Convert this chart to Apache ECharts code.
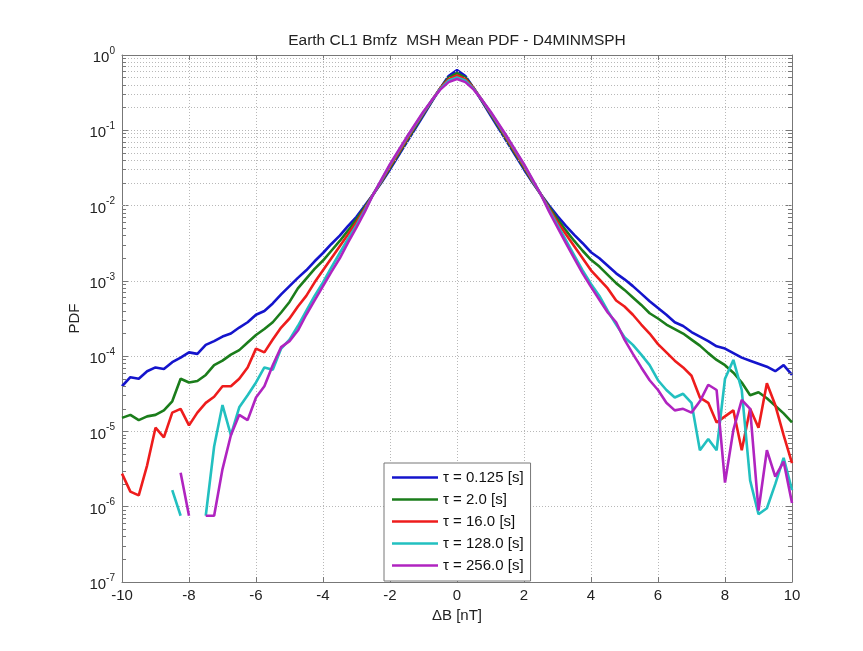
<!DOCTYPE html>
<html><head><meta charset="utf-8">
<script src="https://cdn.jsdelivr.net/npm/echarts@6/dist/echarts.min.js"></script>
<style>html,body{margin:0;padding:0;background:#fff}#c{width:863px;height:651px}</style>
</head><body><div id="c"></div>
<script>
// dB values [nT]
const xs = [-10,-9.75,-9.5,-9.25,-9,-8.75,-8.5,-8.25,-8,-7.75,-7.5,-7.25,-7,-6.75,-6.5,-6.25,-6,-5.75,-5.5,-5.25,-5,-4.75,-4.5,-4.25,-4,-3.75,-3.5,-3.25,-3,
  -2.75,-2.5,-2.25,-2,-1.75,-1.5,-1.25,-1,-0.75,-0.5,-0.25,0,0.25,0.5,0.75,1,1.25,1.5,1.75,2,2.25,2.5,2.75,
  3,3.25,3.5,3.75,4,4.25,4.5,4.75,5,5.25,5.5,5.75,6,6.25,6.5,6.75,7,7.25,7.5,7.75,8,8.25,8.5,8.75,9,9.25,9.5,9.75,10];
// log10(PDF) (null = no data)
const blueLog = [-4.40,-4.28,-4.30,-4.20,-4.15,-4.17,-4.08,-4.02,-3.95,-3.97,-3.85,-3.80,-3.74,-3.70,-3.62,-3.55,-3.45,-3.40,-3.30,-3.18,-3.07,-2.96,-2.86,-2.74,-2.63,-2.51,-2.40,-2.27,-2.15,
  -2.00,-1.85,-1.69,-1.52,-1.34,-1.16,-0.98,-0.80,-0.62,-0.44,-0.28,-0.20,-0.28,-0.44,-0.62,-0.80,-0.98,-1.16,-1.34,-1.52,-1.69,-1.85,-2.00,
  -2.14,-2.27,-2.39,-2.50,-2.62,-2.70,-2.80,-2.90,-2.98,-3.07,-3.17,-3.27,-3.36,-3.45,-3.55,-3.60,-3.68,-3.74,-3.80,-3.87,-3.90,-3.96,-4.02,-4.06,-4.10,-4.14,-4.20,-4.12,-4.25];
const greenLog = [-4.82,-4.78,-4.85,-4.80,-4.78,-4.72,-4.60,-4.30,-4.35,-4.33,-4.25,-4.12,-4.06,-3.98,-3.92,-3.82,-3.72,-3.64,-3.55,-3.42,-3.28,-3.10,-2.97,-2.84,-2.73,-2.60,-2.47,-2.33,-2.18,
  -2.02,-1.85,-1.68,-1.50,-1.32,-1.14,-0.96,-0.78,-0.61,-0.44,-0.30,-0.24,-0.30,-0.44,-0.61,-0.78,-0.96,-1.14,-1.32,-1.50,-1.68,-1.85,-2.02,
  -2.18,-2.33,-2.47,-2.60,-2.72,-2.81,-2.92,-3.03,-3.12,-3.22,-3.32,-3.43,-3.50,-3.58,-3.64,-3.70,-3.78,-3.86,-3.96,-4.05,-4.12,-4.22,-4.35,-4.52,-4.48,-4.56,-4.66,-4.76,-4.88];
const redLog = [-5.56,-5.80,-5.85,-5.45,-4.95,-5.08,-4.75,-4.70,-4.92,-4.75,-4.62,-4.54,-4.40,-4.40,-4.30,-4.15,-3.90,-3.95,-3.78,-3.62,-3.50,-3.34,-3.20,-3.02,-2.86,-2.70,-2.54,-2.38,-2.22,
  -2.04,-1.85,-1.67,-1.48,-1.30,-1.12,-0.94,-0.77,-0.60,-0.44,-0.32,-0.27,-0.32,-0.44,-0.60,-0.77,-0.94,-1.12,-1.30,-1.48,-1.67,-1.85,-2.04,
  -2.22,-2.38,-2.54,-2.70,-2.86,-2.98,-3.10,-3.26,-3.34,-3.45,-3.58,-3.70,-3.84,-3.95,-4.06,-4.15,-4.26,-4.55,-4.62,-4.88,-4.80,-4.72,-5.25,-4.70,-4.95,-4.36,-4.65,-5.05,-5.42];
const cyanLog = [null,null,null,null,null,null,-5.78,-6.12,null,null,-6.12,-5.20,-4.65,-5.05,-4.68,-4.52,-4.35,-4.15,-4.18,-3.90,-3.78,-3.60,-3.40,-3.20,-3.02,-2.82,-2.63,-2.44,-2.26,
  -2.06,-1.85,-1.66,-1.46,-1.28,-1.10,-0.93,-0.76,-0.60,-0.45,-0.34,-0.30,-0.34,-0.45,-0.60,-0.76,-0.93,-1.10,-1.28,-1.46,-1.66,-1.85,-2.06,
  -2.26,-2.46,-2.66,-2.86,-3.04,-3.20,-3.40,-3.58,-3.75,-3.85,-3.98,-4.12,-4.32,-4.45,-4.55,-4.50,-4.62,-5.25,-5.10,-5.25,-4.30,-4.05,-4.45,-5.65,-6.10,-6.02,-5.70,-5.35,-5.78];
const magentaLog = [null,null,null,null,null,null,null,-5.55,-6.12,null,-6.12,-6.12,-5.50,-5.05,-4.78,-4.85,-4.55,-4.40,-4.12,-3.88,-3.80,-3.66,-3.45,-3.26,-3.07,-2.88,-2.70,-2.49,-2.29,
  -2.08,-1.85,-1.65,-1.45,-1.27,-1.09,-0.92,-0.75,-0.60,-0.46,-0.36,-0.32,-0.36,-0.46,-0.60,-0.75,-0.92,-1.09,-1.27,-1.45,-1.65,-1.85,-2.08,
  -2.29,-2.50,-2.70,-2.90,-3.08,-3.25,-3.42,-3.55,-3.78,-3.97,-4.15,-4.32,-4.45,-4.62,-4.72,-4.70,-4.75,-4.60,-4.38,-4.45,-5.68,-4.98,-4.58,-4.70,-6.05,-5.25,-5.60,-5.40,-5.95];
const seriesNames = ['\u03c4 = 0.125 [s]','\u03c4 = 2.0 [s]','\u03c4 = 16.0 [s]','\u03c4 = 128.0 [s]','\u03c4 = 256.0 [s]'];
const xTicks = [-10,-8,-6,-4,-2,0,2,4,6,8,10];
const minorY = [];
for (let e = -7; e < 0; e++) for (let m = 2; m <= 9; m++) minorY.push(m * Math.pow(10, e));

const colors = ['#1414cc','#1b7d1b','#ee1c1c','#22c0c0','#b024c0'];
const logs = [blueLog, greenLog, redLog, cyanLog, magentaLog];
const FONT = 'Liberation Sans, Arial, sans-serif';

function toData(arr) { return xs.map((x, i) => [x, arr[i] == null ? '-' : Math.pow(10, arr[i])]); }

const series = logs.map((arr, k) => ({
  name: seriesNames[k], type: 'line', data: toData(arr), symbol: 'none', showSymbol: false,
  connectNulls: false, animation: false, silent: true, z: 3 + k,
  lineStyle: { color: colors[k], width: 2.6 }, itemStyle: { color: colors[k] }
}));
// minor grid lines and minor ticks (drawn through the axes' scales)
const minorLines = minorY.map(v => ({ yAxis: v }));
const minorTicks = [];
minorY.forEach(v => {
  minorTicks.push([{ coord: [-10, v] }, { coord: [-9.88, v] }]);
  minorTicks.push([{ coord: [9.88, v] }, { coord: [10, v] }]);
});
series.push({
  type: 'line', data: [], silent: true, animation: false, z: 1,
  markLine: { silent: true, symbol: 'none', animation: false, label: { show: false },
    lineStyle: { color: '#b8b8b8', type: [1, 2], width: 1 }, emphasis: { disabled: true },
    data: minorLines }
});
series.push({
  type: 'line', data: [], silent: true, animation: false, z: 10,
  markLine: { silent: true, symbol: 'none', animation: false, label: { show: false },
    lineStyle: { color: '#777', type: 'solid', width: 1 }, emphasis: { disabled: true },
    data: minorTicks }
});

const supFmt = v => '{b|10}{s|' + Math.round(Math.log10(v)) + '}';
const option = {
  backgroundColor: '#fff',
  animation: false,
  title: { text: 'Earth CL1 Bmfz  MSH Mean PDF - D4MINMSPH', left: 452, textAlign: 'center', top: 28,
    textStyle: { fontFamily: FONT, fontSize: 15.5, fontWeight: 'normal', color: '#222' } },
  legend: {
    orient: 'vertical', left: 384, top: 463, itemWidth: 46, itemHeight: 14, itemGap: 7,
    icon: 'path://M0,0 L46,0 L46,2.6 L0,2.6 Z',
    padding: [7, 7, 8, 8], backgroundColor: '#fff', borderColor: '#777', borderWidth: 1,
    textStyle: { fontFamily: FONT, fontSize: 15, color: '#111' },
    data: seriesNames, selectedMode: false
  },
  grid: { left: 122, right: 71, top: 55, bottom: 69, show: false },
  xAxis: [{
    type: 'value', min: -10, max: 10, interval: 2, position: 'bottom',
    name: '\u0394B [nT]', nameLocation: 'middle', nameGap: 26, nameMoveOverlap: false,
    nameTextStyle: { fontFamily: FONT, fontSize: 15, color: '#222', verticalAlign: 'top' },
    axisLine: { show: true, onZero: false, lineStyle: { color: '#777', width: 1 } },
    axisTick: { show: true, inside: true, length: 5, lineStyle: { color: '#777' } },
    axisLabel: { fontFamily: FONT, fontSize: 15, color: '#222', margin: 6 },
    splitLine: { show: true, lineStyle: { color: '#b8b8b8', type: [1, 2], width: 1 } }
  }, {
    type: 'value', min: -10, max: 10, interval: 2, position: 'top',
    axisLine: { show: true, onZero: false, lineStyle: { color: '#777', width: 1 } },
    axisTick: { show: true, inside: true, length: 5, lineStyle: { color: '#777' } },
    axisLabel: { show: false }, splitLine: { show: false }
  }],
  yAxis: [{
    type: 'log', logBase: 10, min: 1e-7, max: 1, position: 'left',
    name: 'PDF', nameLocation: 'middle', nameGap: 40, nameRotate: 90, nameMoveOverlap: false,
    nameTextStyle: { fontFamily: FONT, fontSize: 15, color: '#222' },
    axisLine: { show: true, onZero: false, lineStyle: { color: '#777', width: 1 } },
    axisTick: { show: true, inside: true, length: 6, lineStyle: { color: '#777' } },
    axisLabel: { formatter: supFmt, margin: 7,
      rich: { b: { fontFamily: FONT, fontSize: 15, color: '#222', padding: [6, 0, 0, 0] },
              s: { fontFamily: FONT, fontSize: 10, color: '#222', padding: [0, 0, 8, 0] } } },
    splitLine: { show: true, lineStyle: { color: '#b8b8b8', type: [1, 2], width: 1 } },
    minorTick: { show: false }
  }, {
    type: 'log', logBase: 10, min: 1e-7, max: 1, position: 'right',
    axisLine: { show: true, onZero: false, lineStyle: { color: '#777', width: 1 } },
    axisTick: { show: true, inside: true, length: 6, lineStyle: { color: '#777' } },
    axisLabel: { show: false }, splitLine: { show: false }
  }],
  series: series
};
const chart = echarts.init(document.getElementById('c'), null, { renderer: 'canvas' });
chart.setOption(option);
</script></body></html>
